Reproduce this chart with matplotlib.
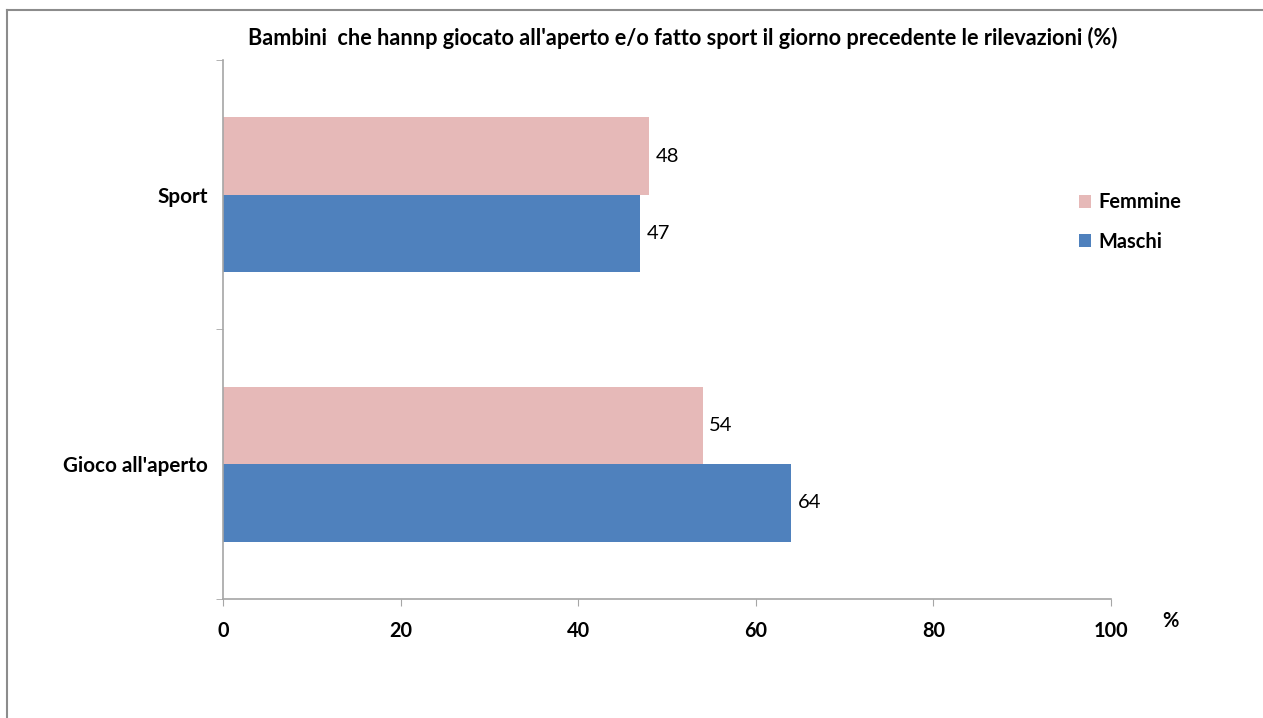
import matplotlib
matplotlib.use("Agg")
import matplotlib.pyplot as plt
from matplotlib.lines import Line2D
from matplotlib.patches import Patch
import numpy as np

plt.rcParams['font.family'] = ['Lato', 'DejaVu Sans']

categories = ["Gioco all'aperto", "Sport"]
series_names = ["Maschi", "Femmine"]
maschi = [64, 47]
femmine = [54, 48]
xticks = [0, 20, 40, 60, 80, 100]
title = "Bambini  che hannp giocato all'aperto e/o fatto sport il giorno precedente le rilevazioni (%)"

c_f = "#E6B9B8"
c_m = "#4F81BD"
grey = "#A6A6A6"

fig = plt.figure(figsize=(12.63, 7.18), dpi=100)
ax = fig.add_axes([223/1263, 1 - 599/718, (1111-223)/1263, (599-60)/718])

y = np.arange(len(categories))
h = 0.287
bm = ax.barh(y - h/2, maschi, height=h, color=c_m)
bf = ax.barh(y + h/2, femmine, height=h, color=c_f)

for bars, vals in ((bm, maschi), (bf, femmine)):
    for b, v in zip(bars, vals):
        ax.text(b.get_width() + 0.7, b.get_y() + b.get_height()/2, f"{v}",
                va='center', ha='left', fontsize=14.5, color='black')

ax.set_xlim(0, 100)
ax.set_ylim(-0.5, 1.5)
ax.set_xticks(xticks)
ax.set_xticklabels([str(t) for t in xticks], fontsize=14.3, fontweight='bold')
ax.set_yticks(y)
ax.set_yticklabels(categories, fontsize=14.9, fontweight='bold')
ax.set_yticks([-0.5, 0.5, 1.5], minor=True)
ax.tick_params(axis='y', which='major', length=0, pad=11)
ax.tick_params(axis='y', which='minor', length=5, color=grey, direction='out')
ax.tick_params(axis='x', length=5, color=grey, direction='out', pad=11)
for s in ('top', 'right'):
    ax.spines[s].set_visible(False)
for s in ('left', 'bottom'):
    ax.spines[s].set_color(grey)
    ax.spines[s].set_linewidth(1.2)

fig.text(683/1263, 1 - 38/718, title, ha='center', va='center',
         fontsize=15.6, fontweight='bold')
fig.text(1170/1263, 1 - 621/718, "%", ha='center', va='center',
         fontsize=14.5, fontweight='bold')

handles = [Patch(facecolor=c_f, edgecolor='none'), Patch(facecolor=c_m, edgecolor='none')]
leg = fig.legend(handles, ["Femmine", "Maschi"], loc='center left',
                 bbox_to_anchor=(1061/1263, 1 - 222/718), frameon=False,
                 prop={'size': 14.4, 'weight': 'bold'}, handlelength=0.6,
                 handleheight=0.6, handletextpad=0.35, labelspacing=0.95)

# outer border (top and left visible)
fig.add_artist(Line2D([7/1263, 1], [1 - 10/718, 1 - 10/718], color='#8C8C8C', lw=1.5,
                      transform=fig.transFigure))
fig.add_artist(Line2D([7/1263, 7/1263], [0, 1 - 10/718], color='#8C8C8C', lw=1.5,
                      transform=fig.transFigure))

fig.savefig("out.png", dpi=100, facecolor='white')
